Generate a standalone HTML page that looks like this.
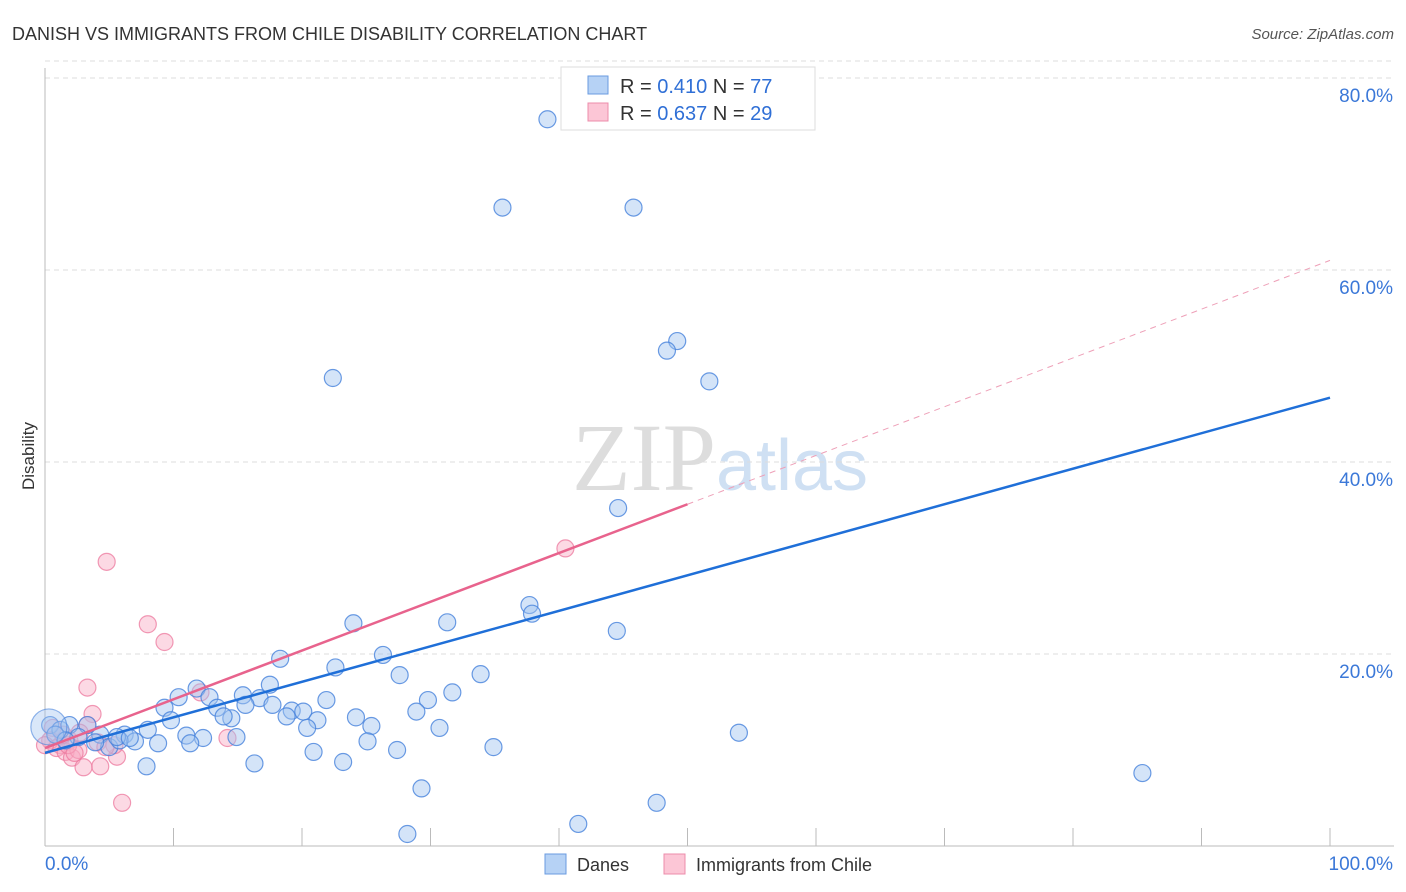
<!DOCTYPE html>
<html><head><meta charset="utf-8"><style>
body{margin:0;background:#fff;font-family:"Liberation Sans",sans-serif;}
svg{display:block}
</style></head><body>
<svg id="chart" width="1406" height="892" xmlns="http://www.w3.org/2000/svg">
<text x="12" y="40" font-size="18" fill="#333">DANISH VS IMMIGRANTS FROM CHILE DISABILITY CORRELATION CHART</text>
<text x="1394" y="39" font-size="15" fill="#555" text-anchor="end" font-style="italic">Source: ZipAtlas.com</text>
<text x="34" y="456" font-size="17" fill="#333" text-anchor="middle" transform="rotate(-90 34 456)">Disability</text>
<text x="720" y="490" font-size="96" fill="#ddd" text-anchor="middle" font-family="Liberation Serif,serif">ZIP<tspan fill="#cfe0f3" font-family="Liberation Sans,sans-serif" font-size="72">atlas</tspan></text>
<g id="grid"></g><g id="axes"></g><g id="pts"></g><g id="lines"></g>
<g>
<rect x="561" y="67" width="254" height="63" fill="#fff" stroke="#ddd"/>
<rect x="588" y="76" width="20" height="18" fill="#b6d2f5" stroke="#6a9be0"/>
<rect x="588" y="103" width="20" height="18" fill="#fcc6d6" stroke="#ec8cab"/>
<text x="620" y="93" font-size="20" fill="#333">R = <tspan fill="#2f6fd6">0.410</tspan>   N = <tspan fill="#2f6fd6">77</tspan></text>
<text x="620" y="120" font-size="20" fill="#333">R = <tspan fill="#2f6fd6">0.637</tspan>   N = <tspan fill="#2f6fd6">29</tspan></text>
</g>
<g>
<rect x="545" y="854" width="21" height="20" fill="#b6d2f5" stroke="#6a9be0"/>
<text x="577" y="871" font-size="18" fill="#333">Danes</text>
<rect x="664" y="854" width="21" height="20" fill="#fcc6d6" stroke="#ec8cab"/>
<text x="696" y="871" font-size="18" fill="#333">Immigrants from Chile</text>
</g>
</svg>
<script>
const yTicks=[20,40,60,80];
const yTickLabels=["20.0%","40.0%","60.0%","80.0%"];
const xTickLabels=["0.0%","100.0%"];
const danesX=[39.1,35.6,45.8,49.2,48.4,51.7,22.4,44.6,37.7,37.9,44.5,31.3,24.0,26.3,18.3,22.6,27.6,33.9,10.4,11.8,12.8,15.4,16.7,17.5,21.9,29.8,31.7,9.3,13.4,14.5,15.6,17.7,19.2,20.1,21.2,24.2,25.4,28.9,30.7,8.0,9.8,11.0,12.3,14.9,20.4,18.8,13.9,6.2,7.0,4.3,5.0,5.8,8.8,11.3,25.1,20.9,27.4,34.9,54.0,7.9,16.3,23.2,29.3,47.6,41.5,28.2,85.4,0.4,1.2,1.9,3.3,2.6,3.9,0.8,1.6,5.6,6.6];
const danesY=[75.7,66.5,66.5,52.6,51.6,48.4,48.75,35.2,25.1,24.2,22.4,23.3,23.2,19.9,19.5,18.6,17.8,17.9,15.5,16.4,15.5,15.7,15.4,16.8,15.2,15.2,16.0,14.4,14.4,13.3,14.7,14.7,14.1,14.0,13.1,13.4,12.5,14.0,12.3,12.1,13.1,11.5,11.25,11.35,12.3,13.5,13.5,11.6,10.9,11.6,10.3,11.0,10.7,10.7,10.9,9.8,10.0,10.3,11.8,8.3,8.6,8.75,6.0,4.5,2.3,1.25,7.6,12.6,12.1,12.6,12.6,11.35,10.8,11.6,11.0,11.35,11.25];
const chileX=[4.8,8.0,9.3,40.5,3.3,3.7,12.1,3.3,0.6,1.2,1.9,2.7,0.4,0.9,1.6,2.1,2.6,4.3,3.0,5.6,6.0,14.2,5.4,1.8,2.3,4.1,0,1.4,4.7];
const chileY=[29.6,23.1,21.25,31.0,16.5,13.75,16.0,12.6,12.3,10.5,11.0,11.8,11.0,10.2,9.8,9.2,10.0,8.3,8.2,9.3,4.5,11.25,10.5,10.5,9.7,10.8,10.5,11.6,10.3];
const danesTrend=[9.7,46.7];
const chileTrend=[10.2,61.0];
const X=v=>45+v*12.85, Y=v=>846-v*9.6;
const NS="http://www.w3.org/2000/svg";
function mk(p,t,a){const e=document.createElementNS(NS,t);for(const k in a)e.setAttribute(k,a[k]);document.getElementById(p).appendChild(e);return e;}
yTicks.forEach((t,i)=>{
 const l=mk('grid','line',{x1:45,x2:1394,y1:Y(t),y2:Y(t),stroke:'#ddd','stroke-dasharray':'5,4'});
 
 
 const tx=mk('grid','text',{x:1393,y:Y(t)+24,'font-size':19,fill:'#3b78d8','text-anchor':'end'});
 tx.textContent=yTickLabels[i];
 
 
});
const tl=mk('grid','line',{x1:45,x2:1394,y1:Y(80)-17,y2:Y(80)-17,stroke:'#ddd','stroke-dasharray':'5,4'});


const ya=mk('axes','line',{x1:45,x2:45,y1:68,y2:846,stroke:'#bbb'});


const xa=mk('axes','line',{x1:45,x2:1394,y1:846,y2:846,stroke:'#bbb'});


for(let k=1;k<=10;k++){
 const t=mk('axes','line',{x1:X(k*10),x2:X(k*10),y1:828,y2:846,stroke:'#bbb'});
 
 
}
[[0,'start',45],[100,'end',1393]].forEach((d,i)=>{
 const t=mk('axes','text',{x:d[2],y:870,'font-size':19,fill:'#3b78d8','text-anchor':d[1]});
 t.textContent=xTickLabels[i];
 
 
});
chileX.forEach((v,i)=>{
 const c=mk('pts','circle',{cx:X(v),cy:Y(chileY[i]),r:8.5,fill:'rgba(248,170,195,0.45)',stroke:'rgba(236,120,158,0.75)','stroke-width':1.2});
 
 
});
danesX.forEach((v,i)=>{
 const c=mk('pts','circle',{cx:X(v),cy:Y(danesY[i]),r:8.5,fill:'rgba(160,196,240,0.45)',stroke:'rgba(70,130,220,0.8)','stroke-width':1.2});
 
 
});
const big=mk('pts','circle',{cx:X(0.3),cy:Y(12.4),r:18,fill:'rgba(160,196,240,0.4)',stroke:'rgba(70,130,220,0.6)','stroke-width':1.2});


const bl=mk('lines','line',{x1:X(0),y1:Y(danesTrend[0]),x2:X(100),y2:Y(danesTrend[1]),stroke:'#1f6fd8','stroke-width':2.5});


const cm=chileTrend[0]+(chileTrend[1]-chileTrend[0])*0.5;
const pl=mk('lines','line',{x1:X(0),y1:Y(chileTrend[0]),x2:X(50),y2:Y(cm),stroke:'#e8638d','stroke-width':2.5});


const pd=mk('lines','line',{x1:X(50),y1:Y(cm),x2:X(100),y2:Y(chileTrend[1]),stroke:'#eea0b8','stroke-width':1,'stroke-dasharray':'6,5'});


</script>
</body></html>
